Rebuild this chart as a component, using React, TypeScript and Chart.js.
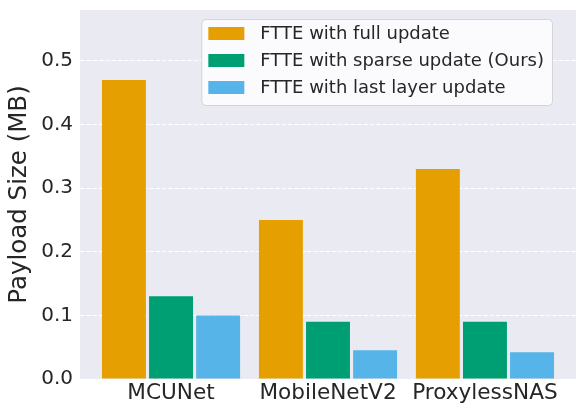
import React, { useEffect, useRef } from 'react';
import { Chart, registerables } from 'chart.js';

Chart.register(...registerables);

const categories = ['MCUNet', 'MobileNetV2', 'ProxylessNAS'];
const seriesLabels = [
  'FTTE with full update',
  'FTTE with sparse update (Ours)',
  'FTTE with last layer update',
];
const fullUpdate = [0.47, 0.25, 0.33];
const sparseUpdate = [0.13, 0.09, 0.09];
const lastLayerUpdate = [0.1, 0.045, 0.042];
const yTicks = [0, 0.1, 0.2, 0.3, 0.4, 0.5];
const seriesColors = ['#E69F00', '#009E73', '#56B4E9'];

const FONT = '"DejaVu Sans", sans-serif';
const TEXT = '#262626';

const bgPlugin = {
  id: 'bgPlugin',
  beforeDraw(chart: any) {
    const { ctx, chartArea } = chart;
    ctx.save();
    ctx.fillStyle = '#EAEAF2';
    ctx.fillRect(chartArea.left, chartArea.top, chartArea.right - chartArea.left, chartArea.bottom - chartArea.top);
    ctx.restore();
  },
};

const legendPlugin = {
  id: 'boxLegend',
  afterDraw(chart: any) {
    const { ctx, chartArea } = chart;
    const ds = chart.data.datasets;
    ctx.save();
    ctx.font = `18px ${FONT}`;
    const maxW = Math.max(...ds.map((d: any) => ctx.measureText(d.label).width));
    const padL = 7, sw = 36, sh = 13, gap = 16, padR = 8, rowH = 27, firstRow = 14.5;
    const width = padL + sw + gap + maxW + padR;
    const height = firstRow + rowH * (ds.length - 1) + 17.5;
    const right = chartArea.right - 24;
    const left = right - width;
    const top = chartArea.top + 9;
    ctx.beginPath();
    ctx.roundRect(left + 0.5, top + 0.5, width, height, 4);
    ctx.fillStyle = '#EAEAF2';
    ctx.fill();
    ctx.fillStyle = 'rgba(255,255,255,0.8)';
    ctx.fill();
    ctx.strokeStyle = 'rgba(204,204,204,0.8)';
    ctx.lineWidth = 1;
    ctx.stroke();
    ds.forEach((d: any, i: number) => {
      const cy = top + firstRow + rowH * i;
      ctx.fillStyle = d.backgroundColor;
      ctx.fillRect(left + padL, cy - sh / 2, sw, sh);
      ctx.fillStyle = TEXT;
      ctx.textBaseline = 'middle';
      ctx.textAlign = 'left';
      ctx.fillText(d.label, left + padL + sw + gap, cy + 1);
    });
    ctx.restore();
  },
};

export default function App() {
  const ref = useRef<HTMLCanvasElement | null>(null);
  useEffect(() => {
    if (!ref.current) return;
    const series = [fullUpdate, sparseUpdate, lastLayerUpdate];
    const chart = new Chart(ref.current, {
      type: 'bar',
      data: {
        datasets: series.map((vals, si) => ({
          label: seriesLabels[si],
          data: vals.map((v, i) => ({ x: i, y: v })),
          backgroundColor: seriesColors[si],
          borderWidth: 0,
          categoryPercentage: 0.9,
          barPercentage: 0.9333,
        })),
      },
      options: {
        animation: false,
        responsive: false,
        devicePixelRatio: 1,
        layout: { padding: { left: 0, top: 10, right: 9, bottom: 0 } },
        plugins: {
          legend: { display: false },
          tooltip: { enabled: false },
        },
        scales: {
          x: {
            type: 'linear',
            offset: false,
            min: -0.58,
            max: 2.58,
            grid: { display: false, offset: false },
            border: { display: false },
            afterBuildTicks: (scale: any) => {
              scale.ticks = categories.map((_, i) => ({ value: i }));
            },
            afterFit: (scale: any) => {
              scale.height = 35;
              scale.paddingLeft = 0;
              scale.paddingRight = 0;
            },
            ticks: {
              autoSkip: false,
              maxRotation: 0,
              padding: -7,
              color: TEXT,
              font: { family: FONT, size: 21.6 },
              callback: (v: any) => categories[v] ?? '',
            },
          },
          y: {
            min: 0,
            max: 0.58,
            z: 1,
            afterBuildTicks: (scale: any) => {
              scale.ticks = yTicks.map((v) => ({ value: v }));
            },
            afterFit: (scale: any) => {
              scale.width = 80;
              scale.paddingTop = 0;
              scale.paddingBottom = 0;
            },
            grid: {
              drawTicks: false,
              color: (c: any) => (c.tick && c.tick.value === 0 ? 'rgba(0,0,0,0)' : '#ffffff'),
              lineWidth: 1,
            },
            border: { display: false, dash: [4.5, 1.8] },
            ticks: {
              padding: 7,
              color: TEXT,
              font: { family: FONT, size: 20 },
              callback: (v: any) => Number(v).toFixed(1),
            },
            title: {
              display: true,
              text: 'Payload Size (MB)',
              color: TEXT,
              font: { family: FONT, size: 24.5 },
              padding: { top: 5, bottom: 0 },
            },
          },
        },
      },
      plugins: [bgPlugin, legendPlugin],
    } as any);
    return () => chart.destroy();
  }, []);
  return (
    <div style={{ position: 'fixed', left: 0, top: 0, width: 585, height: 414 }}>
      <canvas ref={ref} width={585} height={414} style={{ width: 585, height: 414 }} />
    </div>
  );
}
